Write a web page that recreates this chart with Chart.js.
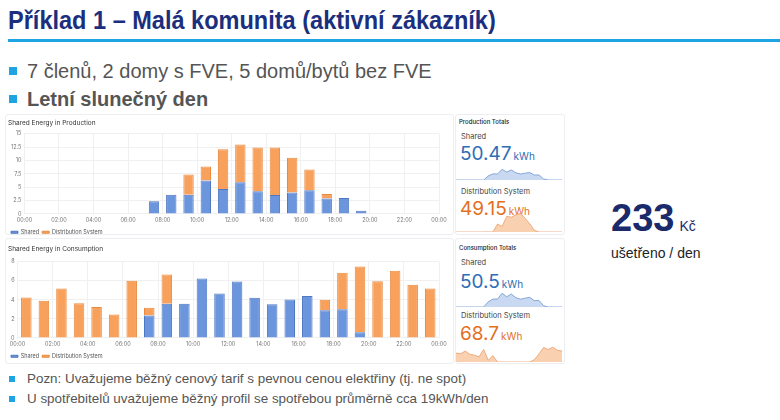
<!DOCTYPE html>
<html>
<head>
<meta charset="utf-8">
<script src="https://cdn.jsdelivr.net/npm/chart.js@4.4.0/dist/chart.umd.min.js"></script>
<style>
body { margin: 0; width: 780px; height: 420px; background: #fff; position: relative; overflow: hidden; font-family: 'Liberation Sans', Arial, sans-serif; }
.abs { position: absolute; white-space: nowrap; }
#title { left: 8px; top: 5px; font-weight: bold; font-size: 26px; color: #1b2f7e; transform: scaleX(0.905); transform-origin: left top; }
#rule { left: 8px; top: 39px; width: 772px; height: 3px; background: #1ea3e3; }
.big { font-size: 20px; color: #555; }
.small { font-size: 13.4px; color: #555; }
.sq { position: absolute; background: #1ea3e3; }
.card { position: absolute; border: 1px solid #eceef1; border-radius: 3px; background: #fff; }
.tot { font-family: Inter, 'Noto Sans', sans-serif; }
.ttl { font-size: 6px; color: #222; font-weight: 500; }
.lbl { font-size: 7.5px; color: #444; }
.val { font-size: 19px; }
.val span { font-size: 10px; margin-left: 2px; }
.blue { color: #2f6db5; }
.orange { color: #e3701f; }
</style>
</head>
<body>
<div id="title" class="abs">Příklad 1 – Malá komunita (aktivní zákazník)</div>
<div id="rule" class="abs"></div>

<div class="sq" style="left:9px;top:67px;width:8px;height:8px"></div>
<div class="abs big" style="left:27px;top:60px">7 členů, 2 domy s FVE, 5 domů/bytů bez FVE</div>
<div class="sq" style="left:9px;top:95px;width:8px;height:8px"></div>
<div class="abs big" style="left:27px;top:88px;font-weight:bold">Letní slunečný den</div>

<div class="card" style="left:5px;top:114px;width:447px;height:119px"><canvas id="prodChart" width="447" height="119"></canvas></div>
<div class="card" style="left:5px;top:238px;width:447px;height:124px"><canvas id="consChart" width="447" height="124"></canvas></div>

<div class="card" style="left:455px;top:114px;width:108px;height:119px"></div>
<div class="card" style="left:455px;top:238px;width:108px;height:124px"></div>

<div class="abs tot ttl" style="left:459px;top:118px">Production Totals</div>
<div class="abs tot lbl" style="left:461px;top:132px">Shared</div>
<div class="abs tot val blue" style="left:460px;top:142px">50.47<span>kWh</span></div>
<canvas class="abs" id="spark1" width="106" height="17" style="left:456px;top:163px"></canvas>
<div class="abs tot lbl" style="left:461px;top:187px">Distribution System</div>
<div class="abs tot val orange" style="left:460px;top:197px">49.15<span>kWh</span></div>
<canvas class="abs" id="spark2" width="106" height="21" style="left:456px;top:211px"></canvas>

<div class="abs tot ttl" style="left:459px;top:244px">Consumption Totals</div>
<div class="abs tot lbl" style="left:461px;top:258px">Shared</div>
<div class="abs tot val blue" style="left:460px;top:270px">50.5<span>kWh</span></div>
<canvas class="abs" id="spark3" width="106" height="22" style="left:456px;top:285px"></canvas>
<div class="abs tot lbl" style="left:461px;top:311px">Distribution System</div>
<div class="abs tot val orange" style="left:460px;top:322px">68.7<span>kWh</span></div>
<canvas class="abs" id="spark4" width="106" height="21" style="left:456px;top:341px"></canvas>

<div class="abs" style="left:611px;top:197px;font-size:38px;font-weight:bold;color:#1b2a6b">233<span style="font-size:14px;font-weight:normal;margin-left:5px">Kč</span></div>
<div class="abs" style="left:611px;top:245px;font-size:14px;color:#222">ušetřeno / den</div>

<div class="sq" style="left:9px;top:376px;width:6px;height:6px"></div>
<div class="abs small" style="left:27px;top:371px">Pozn: Uvažujeme běžný cenový tarif s pevnou cenou elektřiny (tj. ne spot)</div>
<div class="sq" style="left:9px;top:396px;width:6px;height:6px"></div>
<div class="abs small" style="left:27px;top:391px">U spotřebitelů uvažujeme běžný profil se spotřebou průměrně cca 19kWh/den</div>

<script>
// hourly data (kWh), hour 0..23
const hours = [0,1,2,3,4,5,6,7,8,9,10,11,12,13,14,15,16,17,18,19,20,21,22,23];
const sharedKwh   = [0,0,0,0,0,0,0,2.35,3.6,3.6,6.24,4.66,5.92,4.22,3.53,4.03,4.41,2.9,3.0,0.6,0,0,0,0];
const prodGridKwh = [0,0,0,0,0,0,0,0.05,0,3.77,2.64,7.44,7.06,8.2,8.9,6.5,3.9,0.82,0,0,0,0,0,0];
const consGridKwh = [4.25,3.9,5.2,3.65,3.26,2.46,6.0,0.81,3.07,0,0,0,0,0,0,0,0,1.1,3.84,6.9,5.96,7.05,5.6,5.2];
const xTicks = [0,2,4,6,8,10,12,14,16,18,20,22,24];

const blue = '#6b95dc', blueEdge = '#4f78c2';
const orange = '#f8a15c', orangeEdge = '#e98a3f';

Chart.defaults.font.family = 'Inter, "Noto Sans", sans-serif';
Chart.defaults.animation = false;

function hourLabel(v) {
    return String(v % 24).padStart(2, '0') + ':00';
}

function barChart(id, title, grid, yMax, yStep, pad) {
    const toPts = arr => hours.map((h, i) => ({ x: h + 0.5, y: arr[i] }));
    return new Chart(document.getElementById(id), {
        type: 'bar',
        data: {
            datasets: [
                { label: 'Shared', data: toPts(sharedKwh), backgroundColor: blue, borderColor: blueEdge, borderWidth: 1 },
                { label: 'Distribution System', data: toPts(grid), backgroundColor: orange, borderColor: orangeEdge, borderWidth: 1 }
            ]
        },
        options: {
            responsive: false,
            barPercentage: 0.6,
            categoryPercentage: 1,
            layout: { padding: { left: 2, right: 14, top: 0, bottom: pad.bottom } },
            plugins: {
                title: { display: true, text: title, align: 'start', color: '#333', font: { size: 6.5, weight: 'normal' }, padding: { top: pad.top, bottom: pad.gap } },
                legend: {
                    position: 'bottom', align: 'start',
                    labels: { boxWidth: 7, boxHeight: 2, font: { size: 5.5 }, color: '#555', padding: 3 }
                },
                tooltip: { enabled: false }
            },
            scales: {
                x: {
                    type: 'linear', stacked: true, min: 0, max: 24, offset: false,
                    afterBuildTicks: axis => { axis.ticks = xTicks.map(v => ({ value: v })); },
                    ticks: { callback: v => hourLabel(v), font: { size: 5.5 }, color: '#777', maxRotation: 0, padding: 3, autoSkip: false, maxTicksLimit: 20 },
                    grid: { color: '#f0f0f0', drawTicks: false, offset: false },
                    border: { display: false }
                },
                y: {
                    stacked: true, min: 0, max: yMax,
                    ticks: { stepSize: yStep, font: { size: 5.5 }, color: '#777', padding: 3 },
                    grid: { color: '#f0f0f0', drawTicks: false },
                    border: { display: false }
                }
            }
        }
    });
}

barChart('prodChart', 'Shared Energy in Production', prodGridKwh, 15, 2.5, { top: 4, gap: 7, bottom: -11 });
barChart('consChart', 'Shared Energy in Consumption', consGridKwh, 8, 2, { top: 6, gap: 9, bottom: -6 });

function spark(id, arr, line, fill) {
    return new Chart(document.getElementById(id), {
        type: 'line',
        data: { labels: hours, datasets: [{ data: arr, borderColor: line, backgroundColor: fill, borderWidth: 0.8, fill: true, pointRadius: 0, tension: 0 }] },
        options: {
            responsive: false,
            layout: { padding: 0 },
            plugins: { legend: { display: false }, tooltip: { enabled: false } },
            scales: { x: { display: false }, y: { display: false, min: 0 } }
        }
    });
}

spark('spark1', sharedKwh, '#6f95cf', '#c9d9f1');
spark('spark2', prodGridKwh, '#eb9d69', '#f9d0b0');
spark('spark3', sharedKwh, '#6f95cf', '#c9d9f1');
spark('spark4', consGridKwh, '#eb9d69', '#f9d0b0');
</script>
</body>
</html>
